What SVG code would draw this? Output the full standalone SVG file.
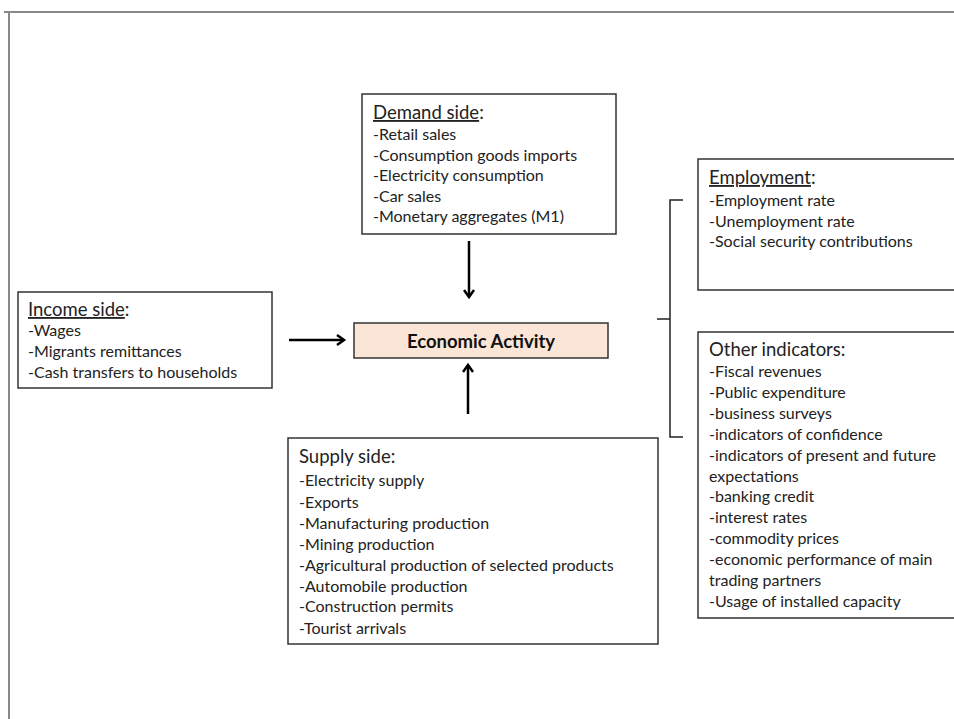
<svg xmlns="http://www.w3.org/2000/svg" width="954" height="719" viewBox="0 0 954 719">
<defs>
<marker id="arr" markerWidth="12" markerHeight="12" refX="9" refY="6" orient="auto" markerUnits="userSpaceOnUse">
<path d="M2,1 L9,6 L2,11" fill="none" stroke="#000" stroke-width="2.5"/>
</marker>
<style>
.box{fill:#fff;stroke:#333;stroke-width:1.5}
.t{font-family:Lato,"Liberation Sans",sans-serif;font-size:16px;fill:#222}
.h{font-family:Lato,"Liberation Sans",sans-serif;font-size:18.5px;fill:#222}
.u{text-decoration:underline}
.c{fill:none;stroke:#000;stroke-width:2.5}
.br{fill:none;stroke:#222;stroke-width:1.5}
</style>
</defs>
<rect width="954" height="719" fill="#fff"/>
<path d="M4,12 H954 M9,12 V719" fill="none" stroke="#888" stroke-width="2"/>
<g id="connectors">
<line class="c" x1="469" y1="241" x2="469" y2="297" marker-end="url(#arr)"/>
<line class="c" x1="468" y1="414" x2="468" y2="365" marker-end="url(#arr)"/>
<line class="c" x1="289" y1="340" x2="344" y2="340" marker-end="url(#arr)"/>
<path class="br" d="M683,200 H670 V319 H657 M670,319 V437 H683"/>
</g>
<g id="demand">
<rect class="box" x="362" y="94" width="254" height="140"/>
<text class="h" x="373" y="119"><tspan class="u">Demand side</tspan>:</text>
<text class="t" x="373" y="140">-Retail sales</text>
<text class="t" x="373" y="161">-Consumption goods imports</text>
<text class="t" x="373" y="181">-Electricity consumption</text>
<text class="t" x="373" y="202">-Car sales</text>
<text class="t" x="373" y="222">-Monetary aggregates (M1)</text>
</g>
<g id="income">
<rect class="box" x="18" y="292" width="254" height="96"/>
<text class="h" x="28" y="316"><tspan class="u">Income side</tspan>:</text>
<text class="t" x="28" y="336">-Wages</text>
<text class="t" x="28" y="357">-Migrants remittances</text>
<text class="t" x="28" y="378">-Cash transfers to households</text>
</g>
<g id="activity">
<rect x="354" y="323" width="254" height="35" fill="#fbe5d6" stroke="#333" stroke-width="1.5"/>
<text x="481" y="348" text-anchor="middle" font-family="Lato,'Liberation Sans',sans-serif" font-size="18.5" font-weight="bold" fill="#111">Economic Activity</text>
</g>
<g id="supply">
<rect class="box" x="288" y="438" width="370" height="206"/>
<text class="h" x="299" y="463">Supply side:</text>
<text class="t" x="299" y="486">-Electricity supply</text>
<text class="t" x="299" y="508">-Exports</text>
<text class="t" x="299" y="529">-Manufacturing production</text>
<text class="t" x="299" y="550">-Mining production</text>
<text class="t" x="299" y="571">-Agricultural production of selected products</text>
<text class="t" x="299" y="592">-Automobile production</text>
<text class="t" x="299" y="612">-Construction permits</text>
<text class="t" x="299" y="634">-Tourist arrivals</text>
</g>
<g id="employment">
<rect class="box" x="698" y="159" width="270" height="131"/>
<text class="h" x="709" y="184"><tspan class="u">Employment</tspan>:</text>
<text class="t" x="709" y="206">-Employment rate</text>
<text class="t" x="709" y="227">-Unemployment rate</text>
<text class="t" x="709" y="247">-Social security contributions</text>
</g>
<g id="other">
<rect class="box" x="698" y="332" width="270" height="286"/>
<text class="h" x="709" y="356">Other indicators:</text>
<text class="t" x="709" y="377">-Fiscal revenues</text>
<text class="t" x="709" y="398">-Public expenditure</text>
<text class="t" x="709" y="419">-business surveys</text>
<text class="t" x="709" y="440">-indicators of confidence</text>
<text class="t" x="709" y="461">-indicators of present and future</text>
<text class="t" x="709" y="482">expectations</text>
<text class="t" x="709" y="502">-banking credit</text>
<text class="t" x="709" y="523">-interest rates</text>
<text class="t" x="709" y="544">-commodity prices</text>
<text class="t" x="709" y="565">-economic performance of main</text>
<text class="t" x="709" y="586">trading partners</text>
<text class="t" x="709" y="607">-Usage of installed capacity</text>
</g>
</svg>
